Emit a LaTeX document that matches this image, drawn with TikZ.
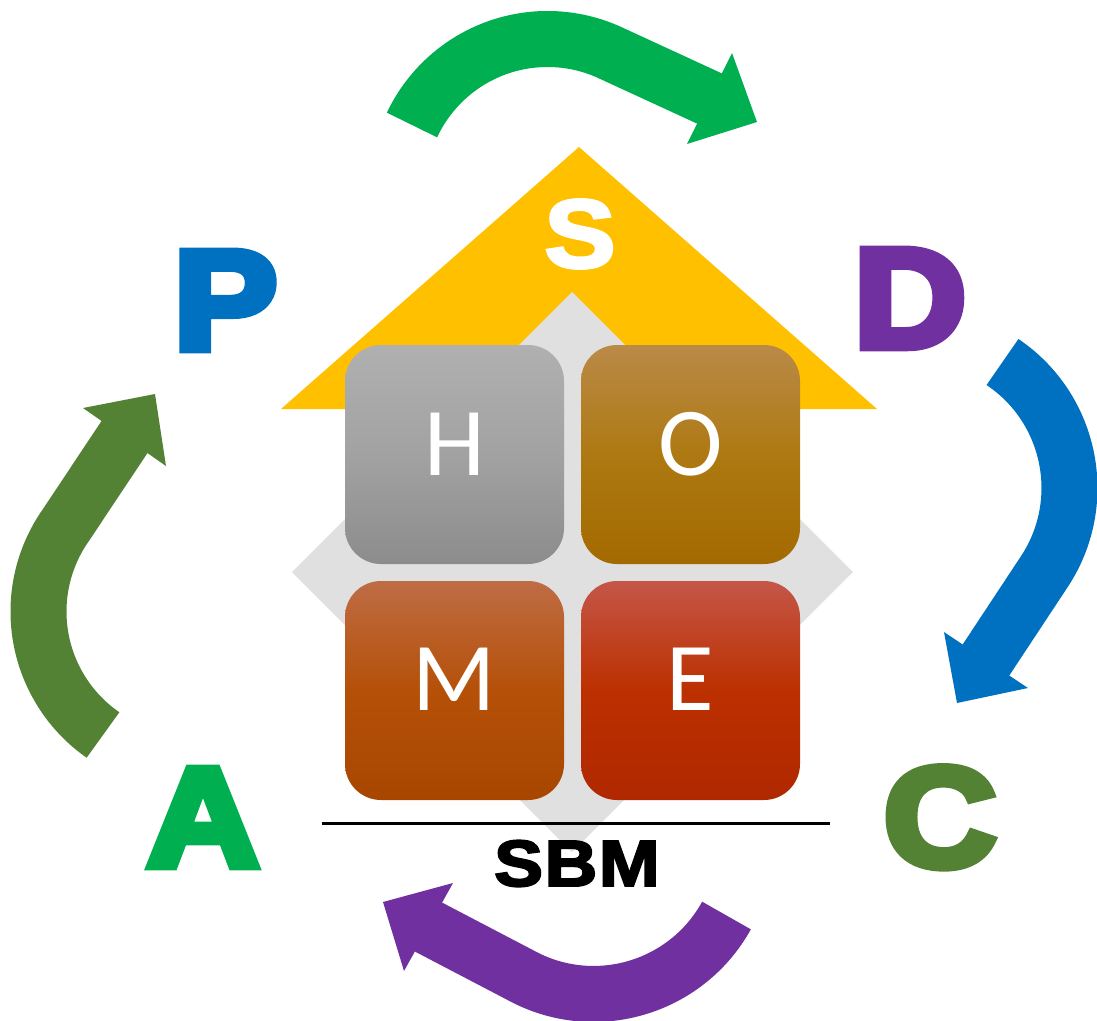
\documentclass[tikz,border=0pt]{standalone}
\usepackage{fontspec}
\setmainfont{Liberation Sans}
\newfontfamily\heavy{Liberation Sans}[BoldFont={Liberation Sans Bold},BoldFeatures={FakeBold=6}]
\newfontfamily\semiheavy{Liberation Sans}[BoldFont={Liberation Sans Bold},BoldFeatures={FakeBold=3}]
\newfontfamily\calib{Carlito}
\definecolor{ygold}{HTML}{FFC000}
\definecolor{dgray}{HTML}{E0E0E0}
\definecolor{cgreen}{HTML}{00B050}
\definecolor{cblue}{HTML}{0070C0}
\definecolor{cpurple}{HTML}{7030A0}
\definecolor{colive}{HTML}{548235}
\definecolor{hTop}{HTML}{B0B0B0}
\definecolor{hMid}{HTML}{A2A2A2}
\definecolor{hBot}{HTML}{8C8C8C}
\definecolor{oTop}{HTML}{BA8A48}
\definecolor{oMid}{HTML}{AE7912}
\definecolor{oBot}{HTML}{A36A00}
\definecolor{mTop}{HTML}{BF6C45}
\definecolor{mMid}{HTML}{B55008}
\definecolor{mBot}{HTML}{A84600}
\definecolor{eTop}{HTML}{C45648}
\definecolor{eMid}{HTML}{BC3000}
\definecolor{eBot}{HTML}{B02800}
\newcommand{\wide}[1]{\scalebox{1.1}[1]{#1}}
\tikzset{
  shaft/.style={line width=42pt},
  tile/.style={rectangle, rounded corners=27pt, minimum width=164.25pt, minimum height=164.25pt, inner sep=0pt, outer sep=0pt},
  tilelbl/.style={text=white, inner sep=0pt, font=\calib\fontsize{73}{73}\selectfont},
  bigl/.style={inner sep=0pt, font=\heavy\bfseries\fontsize{106}{106}\selectfont},
}
\begin{document}
\begin{tikzpicture}[x=0.75pt,y=-0.75pt]
\useasboundingbox (0,0) rectangle (1097,1021);
% roof and diamond
\fill[ygold] (579,147) -- (877,409) -- (281,409) -- cycle;
\fill[dgray] (572,292) -- (853,572) -- (572,852) -- (292,572) -- cycle;
% tiles
\node[tile, top color=hTop, bottom color=hBot, middle color=hMid] (boxH) at (454.5,454.5) {};
\node[tile, top color=oTop, bottom color=oBot, middle color=oMid] (boxO) at (690.5,454.5) {};
\node[tile, top color=mTop, bottom color=mBot, middle color=mMid] (boxM) at (454.5,690.5) {};
\node[tile, top color=eTop, bottom color=eBot, middle color=eMid] (boxE) at (690.5,690.5) {};
\node[tilelbl, anchor=base] (lH) at (454.5,475) {H};
\node[tilelbl, anchor=base] (lO) at (690.5,475) {O};
\node[tilelbl, anchor=base] (lM) at (454.5,710) {M};
\node[tilelbl, anchor=base] (lE) at (690.5,710) {E};
% base line
\coordinate (l1) at (322,823);
\coordinate (l2) at (830,823);
\draw[line width=2.25pt] (l1) -- (l2);
% curved arrows
\draw[shaft, cgreen] (412,125) arc[start angle=205.2, end angle=295.8, radius=149.8] -- (714,100.6);
\fill[cgreen] (757,122) -- (732,53) -- (687,144) -- cycle;
\draw[shaft, cblue] (1002.5,362) arc[start angle=-56, end angle=34, radius=151.9] -- (983.2,664.2);
\fill[cblue] (957,703) -- (944,632) -- (1028,688) -- cycle;
\draw[shaft, cpurple] (726.5,915.5) arc[start angle=28.9, end angle=118.8, radius=151.8] -- (424,924.7);
\fill[cpurple] (383,902) -- (453,883) -- (404,971) -- cycle;
\draw[shaft, colive] (103,735) arc[start angle=124.8, end angle=215.4, radius=150.3] -- (127.3,432.8);
\fill[colive] (155,394) -- (83,408) -- (166,466) -- cycle;
% letters
\node[bigl, text=cblue, anchor=base] (P) at (225.5,349) {\wide{P}};
\node[bigl, text=cpurple, anchor=base] (D) at (910,347) {\wide{D}};
\node[bigl, text=colive, anchor=base] (C) at (940,866) {\wide{C}};
\node[bigl, text=cgreen, anchor=base] (A) at (203,866) {\wide{A}};
\node[inner sep=0pt, text=white, anchor=base, font=\semiheavy\bfseries\fontsize{73}{73}\selectfont] (S) at (580,267.5) {\wide{S}};
\node[inner sep=0pt, anchor=base, font=\semiheavy\bfseries\fontsize{49}{49}\selectfont] (SBM) at (577,886) {\scalebox{1.12}[1]{S\kern1pt B\kern1pt M}};
\end{tikzpicture}
\end{document}
